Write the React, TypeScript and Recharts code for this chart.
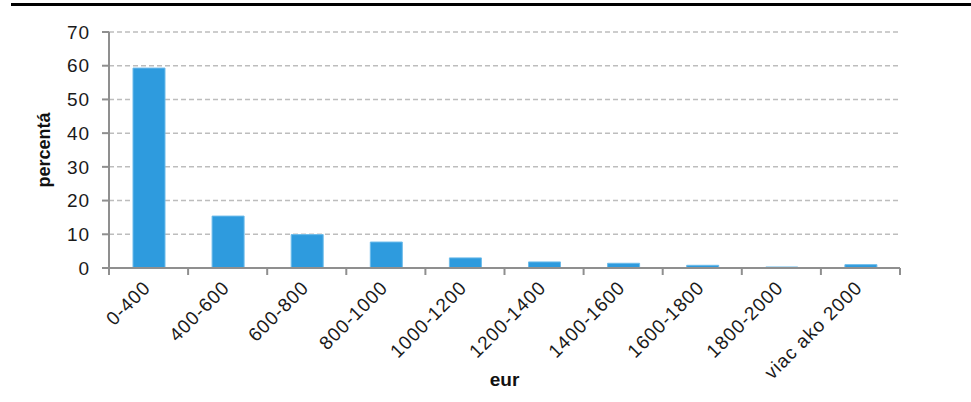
import { BarChart, Bar, XAxis, YAxis, CartesianGrid, Label } from 'recharts';

const categories = ['0-400', '400-600', '600-800', '800-1000', '1000-1200', '1200-1400', '1400-1600', '1600-1800', '1800-2000', 'viac ako 2000'];
const shares = [59.3, 15.4, 9.9, 7.7, 3.0, 1.8, 1.4, 0.8, 0.3, 1.0];
const yTicks = [0, 10, 20, 30, 40, 50, 60, 70];

const data = categories.map((name, i) => ({ name, value: shares[i] }));

const W = 971;
const H = 402;
const MARGIN = { top: 32, right: 71, bottom: 10, left: 10 };
const Y_AXIS_W = 99;
const X_AXIS_H = 124;
const PLOT_W = W - MARGIN.left - MARGIN.right - Y_AXIS_W;
const BAND = PLOT_W / categories.length;

const FONT = '"Liberation Sans", Arial, Helvetica, sans-serif';
const AXIS_GREY = '#8f8f8f';

const XTick = ({ x, y, payload, index }: any) => {
  const left = x - BAND / 2;
  const right = x + BAND / 2;
  return (
    <g>
      <line x1={left} x2={left} y1={y - 8} y2={y - 1} stroke={AXIS_GREY} strokeWidth={2} />
      {index === categories.length - 1 && (
        <line x1={right} x2={right} y1={y - 8} y2={y - 1} stroke={AXIS_GREY} strokeWidth={2} />
      )}
      <text
        x={x + 3}
        y={y + 13}
        textAnchor="end"
        transform={`rotate(-45, ${x + 3}, ${y + 13})`}
        fill="#1a1a1a"
        fontSize={19}
        letterSpacing={0.9}
        fontFamily={FONT}
      >
        {payload.value}
      </text>
    </g>
  );
};

const YLabel = () => (
  <text
    x={45}
    y={150}
    textAnchor="middle"
    dominantBaseline="middle"
    transform="rotate(-90, 45, 150)"
    fill="#111"
    fontSize={18}
    fontWeight="bold"
    fontFamily={FONT}
  >
    percentá
  </text>
);

export default function App() {
  return (
    <div style={{ position: 'absolute', left: 0, top: 0, width: W, height: H, background: '#fff' }}>
      <div style={{ position: 'absolute', left: 11, right: 0, top: 3, height: 3, background: '#000' }} />
      <BarChart width={W} height={H} data={data} margin={MARGIN} barSize={32}>
        <CartesianGrid vertical={false} stroke="#bdbdbd" strokeWidth={1.5} strokeDasharray="5 3" />
        <XAxis
          dataKey="name"
          height={X_AXIS_H}
          interval={0}
          stroke={AXIS_GREY}
          strokeWidth={2}
          tickLine={false}
          tick={<XTick />}
        >
          <Label
            value="eur"
            position="insideBottom"
            offset={6}
            fill="#111"
            fontSize={19}
            fontWeight="bold"
            fontFamily={FONT}
          />
        </XAxis>
        <YAxis
          width={Y_AXIS_W}
          domain={[0, 70]}
          ticks={yTicks}
          interval={0}
          stroke={AXIS_GREY}
          strokeWidth={2}
          tickSize={7}
          tickMargin={12}
          tick={{ fill: '#1a1a1a', fontSize: 19, fontFamily: FONT, letterSpacing: 0.9 }}
        >
          <Label content={<YLabel />} />
        </YAxis>
        <Bar dataKey="value" fill="#2e9bde" stroke="#6cbbea" strokeWidth={1} isAnimationActive={false} />
      </BarChart>
    </div>
  );
}
